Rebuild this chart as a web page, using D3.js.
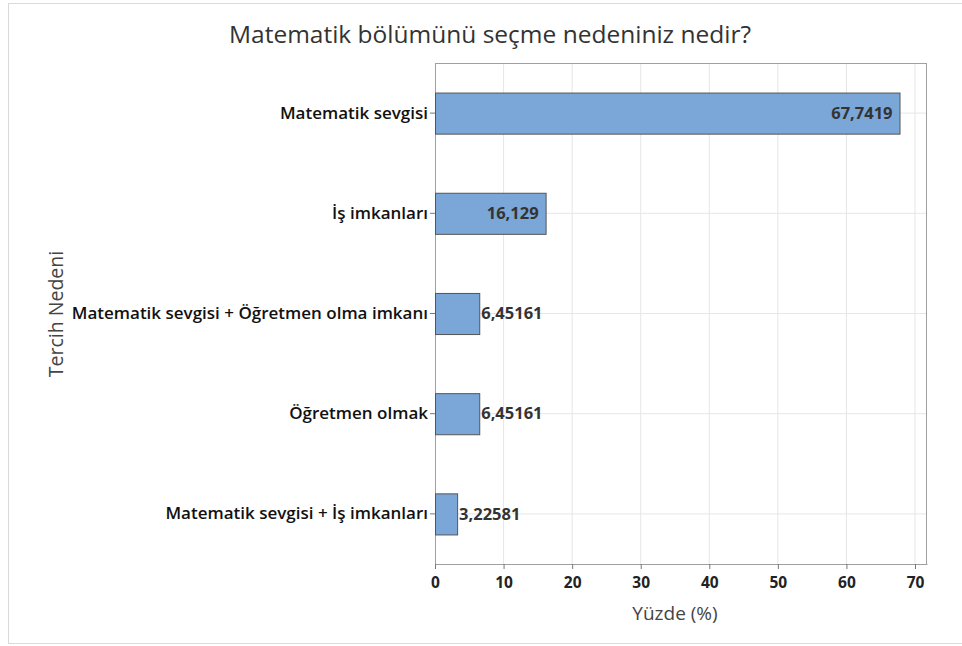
<!DOCTYPE html>
<html>
<head>
<meta charset="utf-8">
<script src="https://cdn.jsdelivr.net/npm/d3@7"></script>
<style>
	body { margin: 0; background: #fff; }
	text { font-family: "Open Sans", "Noto Sans", sans-serif; }
</style>
</head>
<body>
<div id="container"></div>
<script>
// chart data
var categories = ["Matematik sevgisi", "İş imkanları", "Matematik sevgisi + Öğretmen olma imkanı", "Öğretmen olmak", "Matematik sevgisi + İş imkanları"];
var values = [67.7419, 16.129, 6.45161, 6.45161, 3.22581];
var valueLabels = ["67,7419", "16,129", "6,45161", "6,45161", "3,22581"];
var xTicks = [0, 10, 20, 30, 40, 50, 60, 70];

var W = 962, H = 646;
var margin = {top: 63, right: 35, bottom: 82, left: 435};
var width = W - margin.left - margin.right,
	height = H - margin.top - margin.bottom;

var svg = d3.select("#container").append("svg")
	.attr("width", W)
	.attr("height", H);

// outer frame
svg.append("rect")
	.attr("x", 8.5).attr("y", 3.5)
	.attr("width", 980).attr("height", 640)
	.style("fill", "none")
	.style("stroke", "#d9d9d9");

svg.append("text")
	.attr("x", 490)
	.attr("y", 43)
	.style("text-anchor", "middle")
	.style("font-size", "24.5px")
	.style("fill", "#333")
	.text("Matematik bölümünü seçme nedeniniz nedir?");

var g = svg.append("g")
	.attr("transform", "translate(" + margin.left + "," + margin.top + ")");

var x = d3.scaleLinear().domain([0, 71.75]).range([0, width]);
var y = d3.scaleBand().domain(categories).range([0, height])
	.paddingInner(0.59).paddingOuter(0.295);

// grid lines
g.selectAll(".vgrid")
	.data(xTicks.slice(1)).enter()
	.append("line")
		.attr("x1", function(d) { return x(d); })
		.attr("x2", function(d) { return x(d); })
		.attr("y1", 0).attr("y2", height)
		.style("stroke", "#e6e6e6");

g.selectAll(".hgrid")
	.data(categories).enter()
	.append("line")
		.attr("x1", 0).attr("x2", width)
		.attr("y1", function(d) { return y(d) + y.bandwidth() / 2; })
		.attr("y2", function(d) { return y(d) + y.bandwidth() / 2; })
		.style("stroke", "#e6e6e6");

// plot border
g.append("rect")
	.attr("x", 0.5).attr("y", 0.5)
	.attr("width", width - 1).attr("height", height)
	.style("fill", "none")
	.style("stroke", "#a0a0a0");

// bars
g.selectAll(".bar")
	.data(values).enter()
	.append("rect")
		.attr("class", "bar")
		.attr("x", x(0) + 0.5)
		.attr("y", function(d, i) { return y(categories[i]) + 0.5; })
		.attr("width", function(d) { return x(d) - x(0); })
		.attr("height", y.bandwidth())
		.style("fill", "#7ba6d8")
		.style("stroke", "#555");

// value labels: inside for the wide bars, outside for the small ones
g.selectAll(".vlabel")
	.data(values).enter()
	.append("text")
		.attr("x", function(d) { return d > 10 ? x(d) - 7 : x(d) + 2; })
		.attr("y", function(d, i) { return y(categories[i]) + y.bandwidth() / 2; })
		.attr("dy", ".35em")
		.style("text-anchor", function(d) { return d > 10 ? "end" : "start"; })
		.style("font-size", "16.5px")
		.style("font-weight", "bold")
		.style("fill", "#333")
		.text(function(d, i) { return valueLabels[i]; });

// axes
var xAxis = d3.axisBottom(x).tickValues(xTicks).tickSize(5).tickSizeOuter(0);
var yAxis = d3.axisLeft(y).tickSize(5).tickSizeOuter(0);

var xg = g.append("g")
	.attr("transform", "translate(0," + height + ")")
	.call(xAxis);
xg.select(".domain").style("stroke", "#a0a0a0");
xg.selectAll(".tick line").style("stroke", "#777");
xg.selectAll(".tick text")
	.attr("dy", "1.05em")
	.style("font-size", "15.5px")
	.style("font-weight", "bold")
	.style("fill", "#222")
	.style("font-family", "'Open Sans', sans-serif");

var yg = g.append("g").call(yAxis);
yg.select(".domain").remove();
yg.selectAll(".tick line").style("stroke", "#777");
yg.selectAll(".tick text")
	.attr("x", -7)
	.style("font-size", "17px")
	.style("font-weight", "600")
	.style("fill", "#111")
	.style("font-family", "'Open Sans', sans-serif");

svg.append("text")
	.attr("x", margin.left + x(35))
	.attr("y", 620)
	.style("text-anchor", "middle")
	.style("font-size", "19px")
	.style("fill", "#444")
	.text("Yüzde (%)");

svg.append("text")
	.attr("transform", "translate(63,314) rotate(-90)")
	.style("text-anchor", "middle")
	.style("font-size", "19.5px")
	.style("fill", "#444")
	.text("Tercih Nedeni");
</script>
</body>
</html>
